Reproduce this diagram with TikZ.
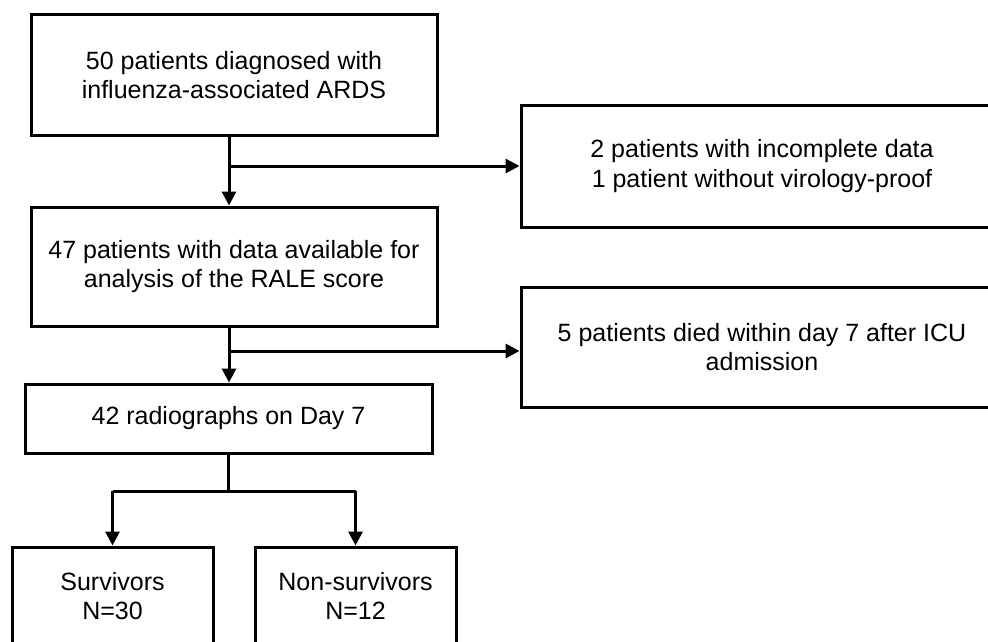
\documentclass[tikz,border=0pt]{standalone}
\usepackage{fontspec}
\setmainfont{Liberation Sans}
\usetikzlibrary{arrows.meta}
\begin{document}
\begin{tikzpicture}[x=1pt,y=1pt,
  box/.style={draw=black, line width=3pt, align=center, inner sep=0pt,
    font=\fontsize{25}{29.5}\selectfont},
  conn/.style={line width=3pt},
  arr/.style={conn, -{Triangle[length=14pt,width=14pt]}}]
\useasboundingbox (0,0) rectangle (988,-642);
\begin{scope}
\clip (0,0) rectangle (988,-642);
\node[box, minimum width=406pt, minimum height=120pt] (b1) at (234,-75)
  {50 patients diagnosed with\\influenza-associated ARDS};
\node[box, minimum width=482pt, minimum height=122pt] (b2) at (762,-166)
  {2 patients with incomplete data\\1 patient without virology-proof};
\node[box, minimum width=406pt, minimum height=119pt] (b3) at (234,-266.5)
  {47 patients with data available for\\analysis of the RALE score};
\node[box, minimum width=482pt, minimum height=120pt] (b4) at (762,-347)
  {5 patients died within day 7 after ICU\\admission};
\node[box, minimum width=407pt, minimum height=69pt] (b5) at (228.5,-418.5)
  {42 radiographs on Day 7};
\node[box, minimum width=201pt, minimum height=98pt] (b6) at (112.5,-596)
  {Survivors\\N=30};
\node[box, minimum width=201pt, minimum height=98pt] (b7) at (355.5,-596)
  {Non-survivors\\N=12};
\coordinate (t1) at (229,-166);
\coordinate (t2) at (229,-351);
\coordinate (s) at (228.5,-491);
\coordinate (sl) at (112.5,-491);
\coordinate (sr) at (355.5,-491);
\draw[arr] (b1.south -| t1) -- (b3.north -| t1);
\draw[arr] (t1) -- (b2.west);
\draw[arr] (b3.south -| t2) -- (b5.north -| t2);
\draw[arr] (t2) -- (t2 -| b4.west);
\draw[conn] (b5.south) -- (s);
\draw[conn] (sl) -- (sr);
\draw[arr] (sl) -- (b6.north);
\draw[arr] (sr) -- (b7.north);
\end{scope}
\end{tikzpicture}
\end{document}
